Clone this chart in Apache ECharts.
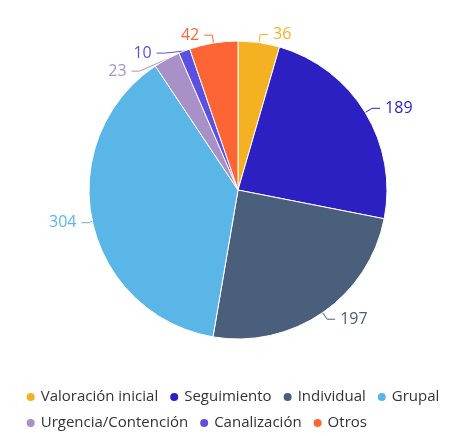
<!DOCTYPE html>
<html>
<head>
    <meta charset="utf-8">
    <title>Pie</title>
    <script src="https://cdn.jsdelivr.net/npm/echarts@6/dist/echarts.min.js"></script>
    <style>body{margin:0;background:#fff;}</style>
</head>
<body>
    <div id="main" style="width: 464px;height:436px;"></div>
    <script type="text/javascript">
        var categories = ['Valoración inicial', 'Seguimiento', 'Individual', 'Grupal', 'Urgencia/Contención', 'Canalización', 'Otros'];
        var values = [36, 189, 197, 304, 23, 10, 42];
        var colors = ['#f4b223', '#2d20c2', '#4a5f7b', '#5ab6e6', '#a891c9', '#5d4fe0', '#fd6634'];

        var myChart = echarts.init(document.getElementById('main'));

        var pieData = categories.map(function (name, i) {
            return {
                name: name,
                value: values[i],
                itemStyle: { color: colors[i] },
                label: { color: colors[i] },
                labelLine: { lineStyle: { color: colors[i] } }
            };
        });

        var option = {
            textStyle: { fontFamily: 'Open Sans' },
            legend: {
                bottom: 0,
                left: 'center',
                width: 464,
                icon: 'circle',
                itemWidth: 10,
                itemHeight: 10,
                itemGap: 10,
                textStyle: { fontSize: 15, lineHeight: 16, color: '#333', fontFamily: 'Open Sans' },
                data: categories
            },
            series: [{
                type: 'pie',
                center: [238, 190],
                radius: 149,
                startAngle: 90,
                clockwise: true,
                itemStyle: { borderColor: '#fff', borderWidth: 1 },
                label: {
                    show: true,
                    formatter: '{c}',
                    fontSize: 16,
                    fontFamily: 'Open Sans'
                },
                labelLine: { length: 8, length2: 8, lineStyle: { width: 1 } },
                data: pieData
            }]
        };

        myChart.setOption(option);
    </script>
</body>
</html>
